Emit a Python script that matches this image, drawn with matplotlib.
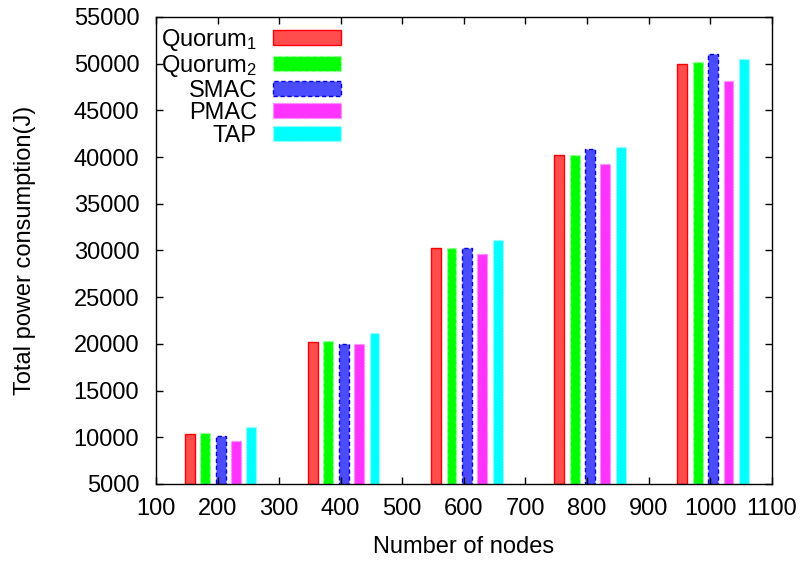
import matplotlib
matplotlib.use("Agg")
import matplotlib.pyplot as plt
import numpy as np

plt.rcParams["font.family"] = ["Liberation Sans", "DejaVu Sans"]
plt.rcParams["mathtext.fontset"] = "custom"
plt.rcParams["mathtext.rm"] = "Liberation Sans"
plt.rcParams["mathtext.default"] = "regular"

nodes = [200, 400, 600, 800, 1000]
series_labels = ["Quorum$_1$", "Quorum$_2$", "SMAC", "PMAC", "TAP"]
quorum1 = [10370, 20200, 30250, 40230, 50000]
quorum2 = [10430, 20300, 30250, 40200, 50130]
smac = [10180, 19980, 30250, 40840, 51030]
pmac = [9570, 19950, 29600, 39290, 48170]
tap = [11040, 21130, 31100, 41120, 50530]
values = [quorum1, quorum2, smac, pmac, tap]

fills = ["#ff4c4c", "#00ff00", "#4c4cff", "#ff33ff", "#00ffff"]
edges = ["#ff0000", "#a0ffa0", "#0000dd", "#ff88ff", "#a0ffff"]
styles = ["solid", (0, (3, 2)), (0, (3, 2)), (0, (1, 1)), (0, (1, 1))]

FS = 17

fig = plt.figure(figsize=(8.08, 5.64), dpi=100)
ax = fig.add_axes([0.193, 0.142, 0.762, 0.828])

offsets = [-45, -20, 5, 30, 55]
width = 16
for vals, lab, fc, ec, ls, off in zip(values, series_labels, fills, edges, styles, offsets):
    ax.bar(np.array(nodes) + off, np.array(vals) - 5000, width, bottom=5000,
           color=fc, edgecolor=ec, linestyle=ls, linewidth=1.0, label=lab)

ax.set_xlim(100, 1100)
ax.set_ylim(5000, 55000)
ax.set_xticks(np.arange(100, 1101, 100))
ax.set_yticks(np.arange(5000, 55001, 5000))
ax.tick_params(direction="in", length=5, width=1, top=True, right=True,
               labelsize=FS)
ax.tick_params(axis="x", pad=10)
ax.tick_params(axis="y", pad=12)
for s in ax.spines.values():
    s.set_linewidth(1.0)

ax.set_xlabel("Number of nodes", fontsize=FS, labelpad=12)
ax.set_ylabel("Total power consumption(J)", fontsize=FS, labelpad=27)

leg = ax.legend(loc="upper left", bbox_to_anchor=(0.008, 0.979), frameon=False,
                markerfirst=False, fontsize=FS, handlelength=2.88,
                handleheight=0.6, labelspacing=0.02, handletextpad=0.68,
                borderaxespad=0.0, borderpad=0.0)

fig.savefig("out.png", dpi=100, facecolor="white")
